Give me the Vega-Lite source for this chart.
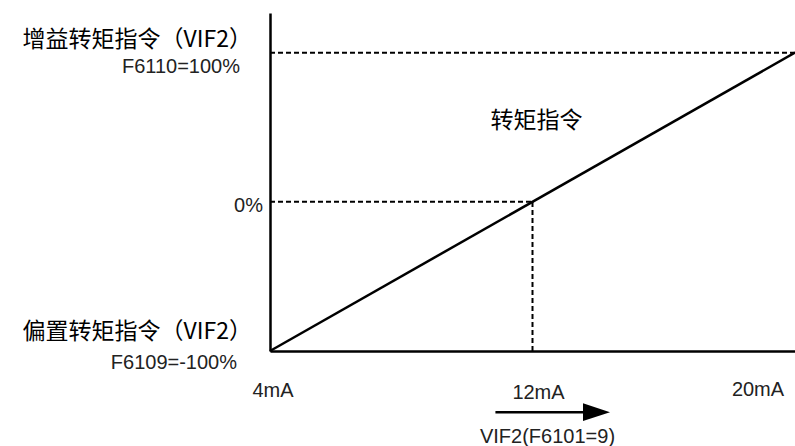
{
  "$schema": "https://vega.github.io/schema/vega-lite/v6.json",
  "width": 525,
  "height": 338,
  "autosize": "none",
  "padding": {"left": 270, "top": 13, "right": 0, "bottom": 95},
  "background": "white",
  "config": {
    "view": {"stroke": null},
    "axis": {"domainColor": "black", "domainWidth": 2.5, "ticks": false, "labels": false, "grid": false, "title": null}
  },
  "datasets": {
    "signal": [{"mA": 4, "pct": -100}, {"mA": 20, "pct": 100}],
    "guides": [
      {"x": 4, "x2": 20, "y": 100, "y2": 100},
      {"x": 4, "x2": 12, "y": 0, "y2": 0},
      {"x": 12, "x2": 12, "y": -100, "y2": 0}
    ],
    "labels": [
      {"id": "gainTitle", "mA": 4, "pct": 100, "text": "增益转矩指令（VIF2）"},
      {"id": "gainVal", "mA": 4, "pct": 100, "text": "F6110=100%"},
      {"id": "zero", "mA": 4, "pct": 0, "text": "0%"},
      {"id": "biasTitle", "mA": 4, "pct": -100, "text": "偏置转矩指令（VIF2）"},
      {"id": "biasVal", "mA": 4, "pct": -100, "text": "F6109=-100%"},
      {"id": "x4", "mA": 4, "pct": -100, "text": "4mA"},
      {"id": "x12", "mA": 12, "pct": -100, "text": "12mA"},
      {"id": "x20", "mA": 20, "pct": -100, "text": "20mA"},
      {"id": "xTitle", "mA": 12, "pct": -100, "text": "VIF2(F6101=9)"},
      {"id": "lineName", "mA": 12, "pct": 100, "text": "转矩指令"}
    ],
    "arrow": [{"from": 10.87, "to": 13.75, "pct": -141}],
    "arrowHead": [{"mA": 13.95, "pct": -141}]
  },
  "encoding": {
    "x": {"field": "mA", "type": "quantitative", "scale": {"domain": [4, 20], "nice": false, "zero": false}, "axis": {"orient": "bottom"}},
    "y": {"field": "pct", "type": "quantitative", "scale": {"domain": [-100, 126.6], "nice": false, "zero": false}, "axis": {"orient": "left"}}
  },
  "layer": [
    {
      "data": {"name": "guides"},
      "mark": {"type": "rule", "clip": false, "color": "black", "strokeWidth": 2, "strokeDash": [5, 3]},
      "encoding": {
        "x": {"field": "x", "type": "quantitative"},
        "x2": {"field": "x2"},
        "y": {"field": "y", "type": "quantitative"},
        "y2": {"field": "y2"}
      }
    },
    {
      "data": {"name": "signal"},
      "mark": {"type": "line", "color": "black", "strokeWidth": 2.5, "clip": false},
      "encoding": {}
    },
    {
      "data": {"name": "arrow"},
      "mark": {"type": "rule", "clip": false, "color": "black", "strokeWidth": 2.5},
      "encoding": {
        "x": {"field": "from", "type": "quantitative"},
        "x2": {"field": "to"},
        "y": {"field": "pct", "type": "quantitative"}
      }
    },
    {
      "data": {"name": "arrowHead"},
      "mark": {"type": "point", "clip": false, "filled": true, "color": "black", "opacity": 1, "shape": "M-1,-0.66L1,0L-1,0.66Z", "size": 729}
    },
    {
      "data": {"name": "labels"},
      "transform": [{"filter": "datum.id === 'gainTitle'"}],
      "mark": {"type": "text", "clip": false, "align": "right", "baseline": "middle", "dx": -18, "dy": -13, "font": "Noto Sans CJK SC", "fontSize": 23, "color": "black"},
      "encoding": {"text": {"field": "text"}}
    },
    {
      "data": {"name": "labels"},
      "transform": [{"filter": "datum.id === 'biasTitle'"}],
      "mark": {"type": "text", "clip": false, "align": "right", "baseline": "middle", "dx": -18, "dy": -19, "font": "Noto Sans CJK SC", "fontSize": 23, "color": "black"},
      "encoding": {"text": {"field": "text"}}
    },
    {
      "data": {"name": "labels"},
      "transform": [{"filter": "datum.id === 'lineName'"}],
      "mark": {"type": "text", "clip": false, "align": "center", "baseline": "middle", "dx": 4, "dy": 68, "font": "Noto Sans CJK SC", "fontSize": 23, "color": "black"},
      "encoding": {"text": {"field": "text"}}
    },
    {
      "data": {"name": "labels"},
      "transform": [{"filter": "datum.id === 'gainVal'"}],
      "mark": {"type": "text", "clip": false, "align": "right", "baseline": "middle", "dx": -30, "dy": 14, "font": "Liberation Sans", "fontSize": 20, "color": "#222"},
      "encoding": {"text": {"field": "text"}}
    },
    {
      "data": {"name": "labels"},
      "transform": [{"filter": "datum.id === 'zero'"}],
      "mark": {"type": "text", "clip": false, "align": "right", "baseline": "middle", "dx": -7, "dy": 4, "font": "Liberation Sans", "fontSize": 20, "color": "#222"},
      "encoding": {"text": {"field": "text"}}
    },
    {
      "data": {"name": "labels"},
      "transform": [{"filter": "datum.id === 'biasVal'"}],
      "mark": {"type": "text", "clip": false, "align": "right", "baseline": "middle", "dx": -33, "dy": 12, "font": "Liberation Sans", "fontSize": 20, "color": "#222"},
      "encoding": {"text": {"field": "text"}}
    },
    {
      "data": {"name": "labels"},
      "transform": [{"filter": "datum.id === 'x4'"}],
      "mark": {"type": "text", "clip": false, "align": "center", "baseline": "middle", "dx": 3, "dy": 40, "font": "Liberation Sans", "fontSize": 20, "color": "#222"},
      "encoding": {"text": {"field": "text"}}
    },
    {
      "data": {"name": "labels"},
      "transform": [{"filter": "datum.id === 'x12'"}],
      "mark": {"type": "text", "clip": false, "align": "center", "baseline": "middle", "dx": 6, "dy": 42, "font": "Liberation Sans", "fontSize": 20, "color": "#222"},
      "encoding": {"text": {"field": "text"}}
    },
    {
      "data": {"name": "labels"},
      "transform": [{"filter": "datum.id === 'x20'"}],
      "mark": {"type": "text", "clip": false, "align": "center", "baseline": "middle", "dx": -37, "dy": 39, "font": "Liberation Sans", "fontSize": 20, "color": "#222"},
      "encoding": {"text": {"field": "text"}}
    },
    {
      "data": {"name": "labels"},
      "transform": [{"filter": "datum.id === 'xTitle'"}],
      "mark": {"type": "text", "clip": false, "align": "center", "baseline": "middle", "dx": 15, "dy": 86, "font": "Liberation Sans", "fontSize": 20, "color": "#222"},
      "encoding": {"text": {"field": "text"}}
    }
  ]
}
